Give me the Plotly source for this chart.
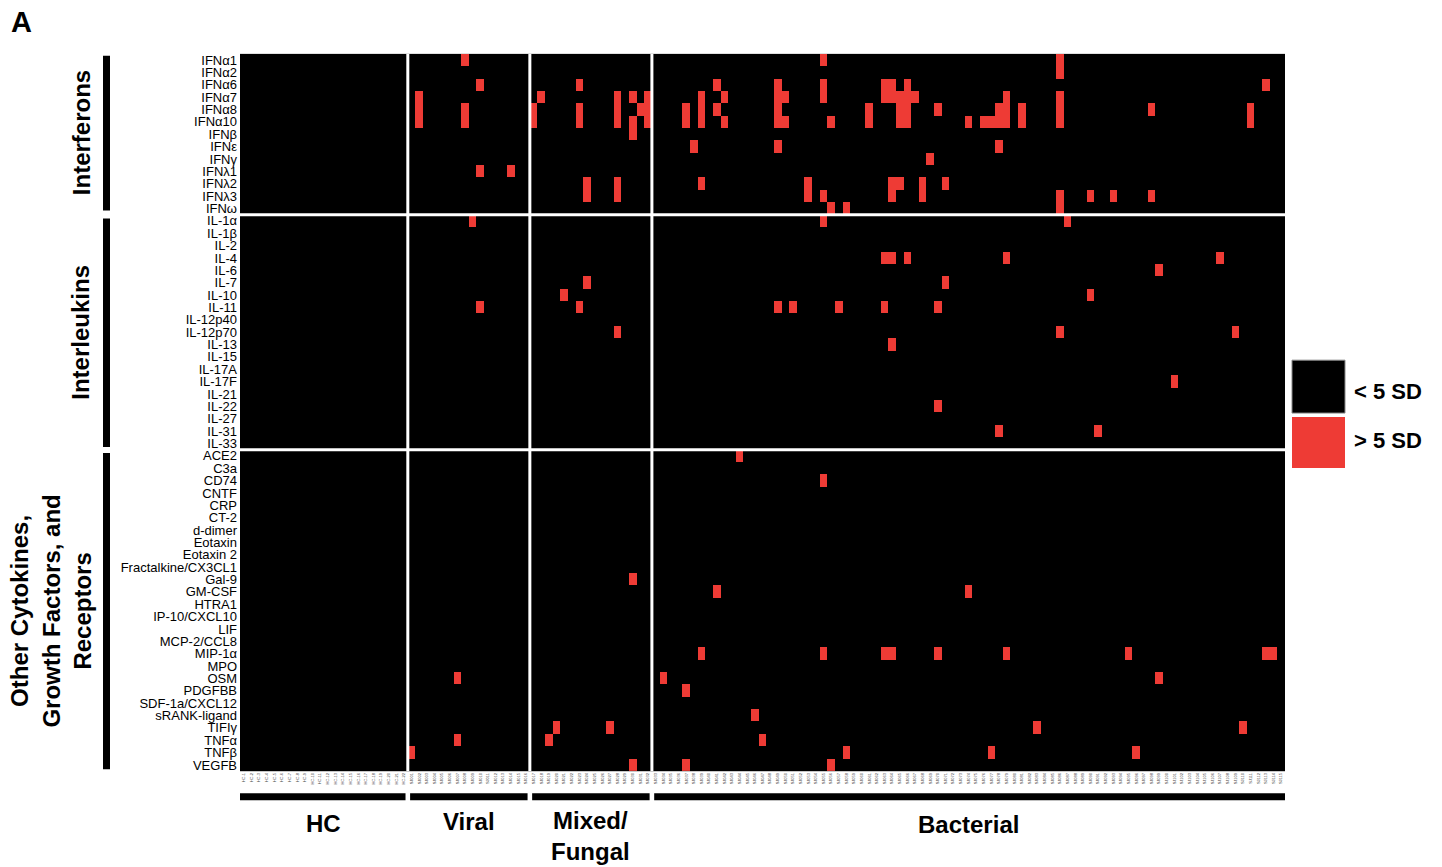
import plotly.graph_objects as go

W, H = 1442, 867

# ---- markers (rows) ----
interferons = ["IFNα1", "IFNα2", "IFNα6", "IFNα7", "IFNα8", "IFNα10", "IFNβ", "IFNε",
               "IFNγ", "IFNλ1", "IFNλ2", "IFNλ3", "IFNω"]
interleukins = ["IL-1α", "IL-1β", "IL-2", "IL-4", "IL-6", "IL-7", "IL-10", "IL-11", "IL-12p40",
                "IL-12p70", "IL-13", "IL-15", "IL-17A", "IL-17F", "IL-21", "IL-22", "IL-27",
                "IL-31", "IL-33"]
others = ["ACE2", "C3a", "CD74", "CNTF", "CRP", "CT-2", "d-dimer", "Eotaxin", "Eotaxin 2",
          "Fractalkine/CX3CL1", "Gal-9", "GM-CSF", "HTRA1", "IP-10/CXCL10", "LIF", "MCP-2/CCL8",
          "MIP-1α", "MPO", "OSM", "PDGFBB", "SDF-1a/CXCL12", "sRANK-ligand", "TIFIγ", "TNFα",
          "TNFβ", "VEGFB"]
markers = interferons + interleukins + others

# ---- samples (columns) per group ----
group_names = ["HC", "Viral", "Mixed/<br>Fungal", "Bacterial"]
group_sizes = [22, 16, 16, 83]

# ---- samples above 5 SD, per group: marker -> sample index within the group ----
hc_hits = {}
viral_hits = {
    "IFNα1": [7], "IFNα6": [9], "IFNα7": [1], "IFNα8": [1, 7], "IFNα10": [1, 7],
    "IFNλ1": [9, 13], "IL-1α": [8], "IL-11": [9], "OSM": [6], "TNFα": [6], "TNFβ": [0],
}
mixed_hits = {
    "IFNα6": [6], "IFNα7": [1, 11, 13, 15], "IFNα8": [0, 6, 11, 14, 15],
    "IFNα10": [0, 6, 11, 13, 15], "IFNβ": [13], "IFNλ2": [7, 11], "IFNλ3": [7, 11],
    "IL-7": [7], "IL-10": [4], "IL-11": [6], "IL-12p70": [11], "Gal-9": [13],
    "TIFIγ": [3, 10], "TNFα": [2], "VEGFB": [13],
}
bacterial_hits = {
    "IFNα1": [22, 53], "IFNα2": [53], "IFNα6": [8, 16, 22, 30, 31, 33, 80],
    "IFNα7": [6, 9, 16, 17, 22, 30, 31, 32, 33, 34, 46, 53],
    "IFNα8": [4, 6, 8, 16, 28, 32, 33, 37, 45, 46, 48, 53, 65, 78],
    "IFNα10": [4, 6, 9, 16, 17, 23, 28, 32, 33, 41, 43, 44, 45, 46, 48, 53, 78],
    "IFNε": [5, 16, 45], "IFNγ": [36], "IFNλ2": [6, 20, 31, 32, 35, 38],
    "IFNλ3": [20, 22, 31, 35, 53, 57, 60, 65], "IFNω": [23, 25, 53],
    "IL-1α": [22, 54], "IL-4": [30, 31, 33, 46, 74], "IL-6": [66], "IL-7": [38],
    "IL-10": [57], "IL-11": [16, 18, 24, 30, 37], "IL-12p70": [53, 76], "IL-13": [31],
    "IL-17F": [68], "IL-22": [37], "IL-31": [45, 58],
    "ACE2": [11], "CD74": [22], "GM-CSF": [8, 41],
    "MIP-1α": [6, 22, 30, 31, 37, 46, 62, 80, 81], "OSM": [1, 66], "PDGFBB": [4],
    "sRANK-ligand": [13], "TIFIγ": [50, 77], "TNFα": [14], "TNFβ": [25, 44, 63],
    "VEGFB": [4, 23],
}
group_hits = [hc_hits, viral_hits, mixed_hits, bacterial_hits]

# sample ids
sample_ids = [f"HC-{i + 1}" for i in range(group_sizes[0])]
n_other = sum(group_sizes[1:])
sample_ids += [f"SJ{i + 1:03d}" for i in range(n_other)]

# ---- build the binary matrix ----
n_cols = sum(group_sizes)
offsets = [sum(group_sizes[:i]) for i in range(len(group_sizes))]
z = [[0] * n_cols for _ in markers]
for g, hits in enumerate(group_hits):
    for m, cols in hits.items():
        r = markers.index(m)
        for c in cols:
            z[r][offsets[g] + c] = 1

RED = "#EE3B35"

fig = go.Figure(go.Heatmap(
    z=z, x=list(range(n_cols)), y=list(range(len(markers))),
    zmin=0, zmax=1, showscale=False, hoverinfo="skip",
    colorscale=[[0, "#000000"], [0.5, "#000000"], [0.5, RED], [1, RED]],
))

def px_x(p):
    return p / W

def px_y(p):
    return 1 - p / H

shapes = []
annotations = []

# white separators between groups and marker classes
for b in offsets[1:]:
    shapes.append(dict(type="line", xref="x", yref="y", x0=b - 0.5, x1=b - 0.5,
                       y0=-0.5, y1=len(markers) - 0.5, line=dict(color="white", width=3)))
class_bounds = [len(interferons), len(interferons) + len(interleukins)]
for b in class_bounds:
    shapes.append(dict(type="line", xref="x", yref="y", x0=-0.5, x1=n_cols - 0.5,
                       y0=b - 0.5, y1=b - 0.5, line=dict(color="white", width=3)))

# bottom group bars and labels
label_y = [824, 822, 837, 825]
for g, (name, size) in enumerate(zip(group_names, group_sizes)):
    x0 = offsets[g] - 0.5 + (0.3 if g > 0 else -0.4)
    x1 = offsets[g] + size - 0.5 - (0.3 if g < len(group_sizes) - 1 else 0)
    shapes.append(dict(type="rect", xref="x", yref="paper", x0=x0, x1=x1,
                       y0=px_y(801), y1=px_y(794), fillcolor="black", line_width=0))
    annotations.append(dict(x=offsets[g] + size / 2 - 0.5, xref="x", y=px_y(label_y[g]),
                            yref="paper", xanchor="center", yanchor="middle",
                            text=f"<b>{name}</b>", showarrow=False,
                            font=dict(size=24, color="black"), align="center"))

# left class bars and labels
class_spans = [(55, 210, "Interferons", 81), (218, 447, "Interleukins", 81),
               (453, 770, "Other Cytokines,<br>Growth Factors, and<br>Receptors", 51)]
for y0, y1, label, xc in class_spans:
    shapes.append(dict(type="rect", xref="paper", yref="paper", x0=px_x(103), x1=px_x(110),
                       y0=px_y(y1), y1=px_y(y0), fillcolor="black", line_width=0))
    yc = (y0 + y1) / 2 if "Other" not in label else 612
    annotations.append(dict(x=px_x(xc), y=px_y(yc), xref="paper", yref="paper",
                            xanchor="center", yanchor="middle",
                            text=f"<b>{label}</b>", textangle=-90, showarrow=False,
                            font=dict(size=24, color="black"), align="center"))

# legend boxes
shapes.append(dict(type="rect", xref="paper", yref="paper", x0=px_x(1292), x1=px_x(1345),
                   y0=px_y(413), y1=px_y(360), fillcolor="black", line=dict(color="#888", width=1)))
shapes.append(dict(type="rect", xref="paper", yref="paper", x0=px_x(1292), x1=px_x(1345),
                   y0=px_y(468), y1=px_y(417), fillcolor=RED, line_width=0))
annotations.append(dict(x=px_x(1352), y=px_y(391), xref="paper", yref="paper",
                        xanchor="left", yanchor="middle",
                        text="<b>< 5 SD</b>", showarrow=False, font=dict(size=22, color="black")))
annotations.append(dict(x=px_x(1352), y=px_y(441), xref="paper", yref="paper",
                        xanchor="left", yanchor="middle",
                        text="<b>> 5 SD</b>", showarrow=False, font=dict(size=22, color="black")))

# panel letter
annotations.append(dict(x=px_x(9), y=px_y(21), xref="paper", yref="paper",
                        xanchor="left", yanchor="middle",
                        text="<b>A</b>", showarrow=False, font=dict(size=29, color="black")))

fig.update_layout(
    width=W, height=H, margin=dict(l=0, r=0, t=0, b=0),
    paper_bgcolor="white", plot_bgcolor="black",
    font=dict(family="Liberation Sans, Arial, sans-serif", color="black"),
    shapes=shapes, annotations=annotations,
    xaxis=dict(domain=[px_x(240), px_x(1285)], range=[-0.5, n_cols - 0.5],
               tickvals=list(range(n_cols)), ticktext=sample_ids, tickangle=-90,
               tickfont=dict(size=4, color="#444"), showgrid=False, zeroline=False,
               ticks="", showline=False),
    yaxis=dict(domain=[px_y(772), px_y(53)], range=[len(markers) - 0.5, -0.5],
               tickvals=list(range(len(markers))), ticktext=markers,
               tickfont=dict(size=13, color="black"), showgrid=False, zeroline=False,
               ticks="", showline=False, ticklabelstandoff=2),
)

fig.write_html("out.html")
